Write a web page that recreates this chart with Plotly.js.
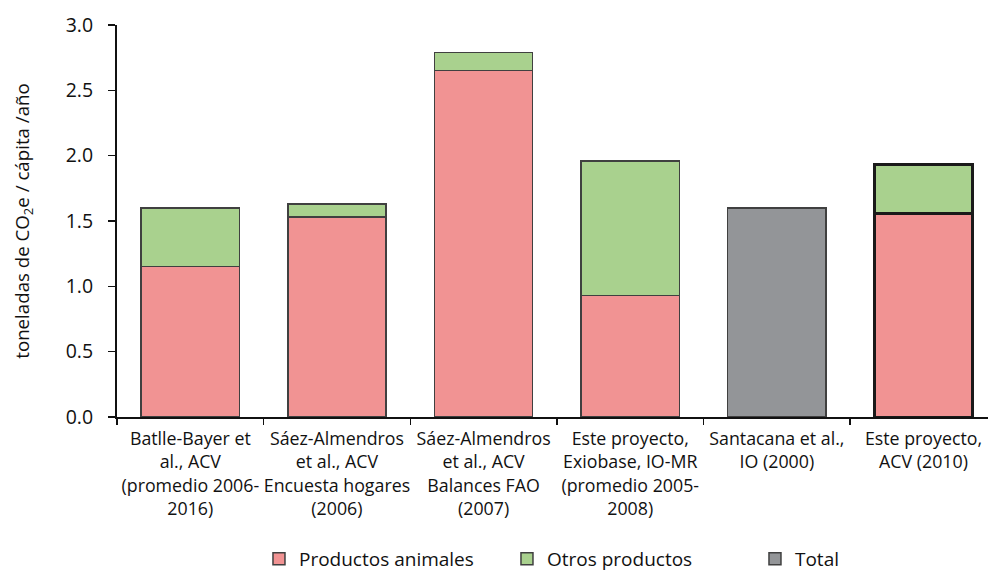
<!DOCTYPE html>
<html>
<head>
<meta charset="utf-8">
<script src="https://cdn.plot.ly/plotly-3.0.1.min.js"></script>
<style>html,body{margin:0;padding:0;background:#fff;}#chart{width:988px;height:578px;}</style>
</head>
<body>
<div id="chart"></div>
<script>
const categories = [
  "Batlle-Bayer et<br>al., ACV<br>(promedio 2006-<br>2016)",
  "Sáez-Almendros<br>et al., ACV<br>Encuesta hogares<br>(2006)",
  "Sáez-Almendros<br>et al., ACV<br>Balances FAO<br>(2007)",
  "Este proyecto,<br>Exiobase, IO-MR<br>(promedio 2005-<br>2008)",
  "Santacana et al.,<br>IO (2000)",
  "Este proyecto,<br>ACV (2010)"
];
const productosAnimales = [1.15, 1.53, 2.65, 0.93, null, 1.56];
const otrosProductos = [0.45, 0.10, 0.14, 1.03, null, 0.37];
const total = [null, null, null, null, 1.60, null];

const font = "Open Sans, sans-serif";
const txt = "#111";
const lineW = [1.5, 1.5, 1.5, 1.5, 1.5, 3];
const lineC = ["#404040", "#404040", "#404040", "#404040", "#404040", "#1a1a1a"];

const traces = [
  {type: "bar", name: "Productos animales", x: categories, y: productosAnimales,
   marker: {color: "#F19393", line: {color: lineC, width: lineW}}, width: 0.67},
  {type: "bar", name: "Otros productos", x: categories, y: otrosProductos,
   marker: {color: "#A9D18E", line: {color: lineC, width: lineW}}, width: 0.67},
  {type: "bar", name: "Total", x: categories, y: total,
   marker: {color: "#939598", line: {color: "#404040", width: 1.5}}, width: 0.67}
];

const layout = {
  width: 988, height: 578,
  margin: {l: 117, r: 0, t: 25, b: 161, autoexpand: false},
  barmode: "stack",
  paper_bgcolor: "#fff", plot_bgcolor: "#fff",
  font: {family: font, size: 17, color: txt},
  showlegend: true,
  legend: {orientation: "h", x: 0.163, xanchor: "left", yref: "container", y: 0, yanchor: "bottom",
           font: {size: 19, family: font, color: txt}, traceorder: "normal",
           entrywidth: 203, entrywidthmode: "pixels", itemwidth: 30},
  xaxis: {
    range: [-0.5, 5.44], showline: true, linecolor: "#111", linewidth: 2,
    ticks: "outside", tickson: "boundaries", ticklen: 6, tickwidth: 1.5, tickcolor: "#111",
    showgrid: false, zeroline: false, tickangle: 0, ticklabelstandoff: 5,
    tickfont: {size: 17.8, family: font, color: txt}
  },
  yaxis: {
    range: [0, 3.0], dtick: 0.5, tickformat: ".1f", showline: true, linecolor: "#111", linewidth: 2,
    ticks: "outside", ticklen: 7, tickwidth: 1.5, tickcolor: "#111", ticklabelstandoff: 11,
    showgrid: false, zeroline: false,
    tickfont: {size: 19.5, family: font, color: txt},
    title: {text: "toneladas de CO<sub>2</sub>e / cápita /año", font: {size: 18.7, family: font, color: txt}, standoff: 31}
  }
};

Plotly.newPlot("chart", traces, layout, {displayModeBar: false, staticPlot: true});
</script>
</body>
</html>
